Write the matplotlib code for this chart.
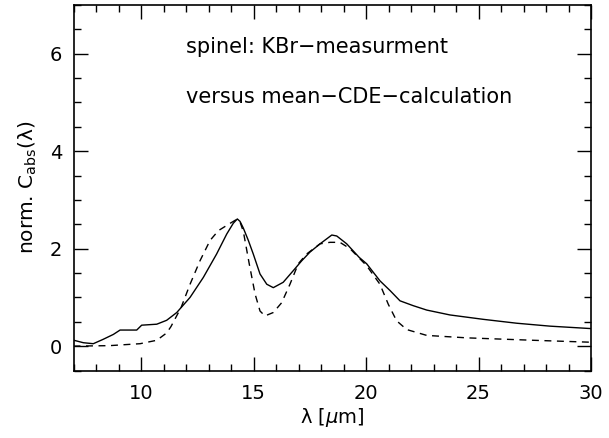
import matplotlib
matplotlib.use("Agg")
import matplotlib.pyplot as plt
from matplotlib.ticker import MultipleLocator

meas_x = [7.02, 7.44, 7.88, 8.32, 8.77, 9.07, 9.81, 10.03, 10.7, 11.14, 11.59, 12.18, 12.77,
          13.36, 13.81, 14.1, 14.28, 14.4, 14.55, 14.77, 14.99, 15.29, 15.59, 15.88, 16.32,
          16.77, 17.14, 17.51, 17.96, 18.48, 18.7, 19.14, 19.7, 20.03, 20.62, 21.07, 21.51,
          22.1, 22.7, 23.73, 25.21, 26.7, 28.18, 30.0]
meas_y = [0.12, 0.07, 0.05, 0.14, 0.24, 0.33, 0.33, 0.43, 0.45, 0.53, 0.69, 1.0, 1.41,
          1.89, 2.3, 2.52, 2.61, 2.56, 2.42, 2.17, 1.89, 1.48, 1.27, 1.2, 1.31,
          1.55, 1.75, 1.93, 2.1, 2.28, 2.26, 2.1, 1.82, 1.69, 1.34, 1.14, 0.93,
          0.83, 0.74, 0.64, 0.55, 0.47, 0.41, 0.36]

calc_x = [7.0, 8.6, 9.96, 10.7, 11.14, 11.33, 11.78, 12.18, 12.62, 13.07, 13.44, 13.96,
          14.25, 14.4, 14.55, 14.81, 15.07, 15.29, 15.51, 15.88, 16.25, 16.62, 16.99, 17.36,
          17.96, 18.4, 18.84, 19.29, 20.03, 20.62, 20.99, 21.36, 21.81, 22.7, 24.48, 27.44, 30.0]
calc_y = [0.0, 0.01, 0.05, 0.12, 0.27, 0.4, 0.79, 1.27, 1.75, 2.17, 2.37, 2.52,
          2.6, 2.55, 2.35, 1.69, 1.07, 0.72, 0.62, 0.69, 0.89, 1.27, 1.69, 1.89,
          2.1, 2.13, 2.13, 2.0, 1.65, 1.27, 0.86, 0.52, 0.34, 0.22, 0.17, 0.12, 0.08]

fig = plt.figure(figsize=(6.09, 4.38), dpi=100)
ax = fig.add_axes([73.5/609, 1 - 370.5/438, (591-73.5)/609, (370.5-5)/438])
ax.plot(meas_x, meas_y, color="black", lw=1.0)
ax.plot(calc_x, calc_y, color="black", lw=1.0, ls=(0, (5, 4)))
ax.set_xlim(7, 30)
ax.set_ylim(-0.5, 7)
ax.xaxis.set_major_locator(MultipleLocator(5))
ax.xaxis.set_minor_locator(MultipleLocator(1))
ax.yaxis.set_major_locator(MultipleLocator(2))
ax.yaxis.set_minor_locator(MultipleLocator(0.5))
ax.tick_params(which="both", direction="in", top=True, right=True, labelsize=14)
ax.tick_params(axis="x", pad=10)
ax.tick_params(axis="y", pad=8)
ax.tick_params(which="major", length=10, width=1)
ax.tick_params(which="minor", length=5, width=1)
for s in ax.spines.values():
    s.set_linewidth(1.2)
ax.set_xlabel(r"λ [$\mu$m]", fontsize=14, labelpad=2)
ax.set_ylabel(r"norm. C$_{\rm abs}$(λ)", fontsize=14.5, labelpad=8)
ax.text(12.0, 6.13, "spinel: KBr\u2212measurment", fontsize=15, ha="left", va="center")
ax.text(12.0, 5.12, "versus mean\u2212CDE\u2212calculation", fontsize=15, ha="left", va="center")
fig.savefig("out.png", dpi=100)
